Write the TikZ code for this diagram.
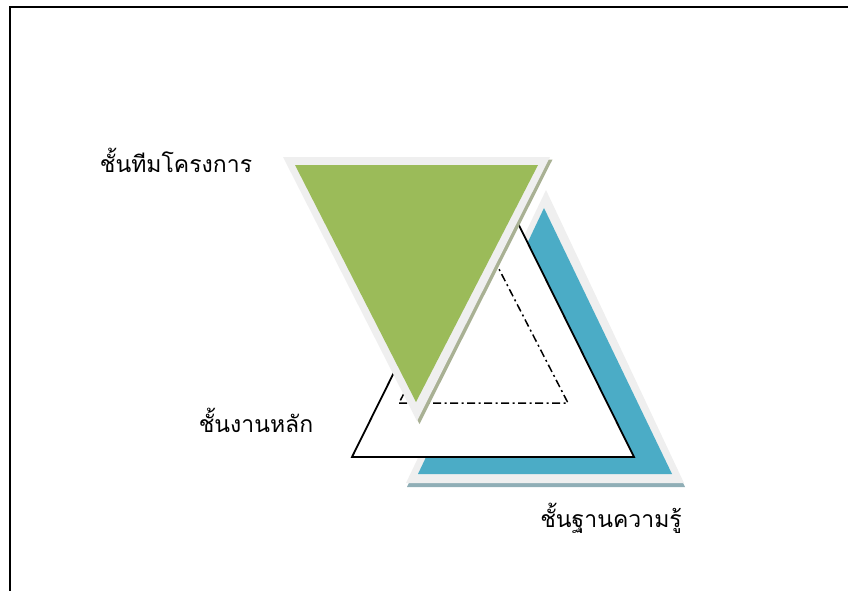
\documentclass[tikz,border=0pt]{standalone}
\usepackage{fontspec}
\newfontfamily\thaifont[Script=Thai]{Loma}
\definecolor{tgreen}{HTML}{9BBB59}
\definecolor{tblue}{HTML}{4BACC6}
\definecolor{tborder}{HTML}{EFEFEF}
\definecolor{gshadow}{HTML}{A9B194}
\definecolor{bshadow}{HTML}{8FAEB6}
\tikzset{
  lbl/.style={font=\thaifont\fontsize{23}{27}\selectfont, inner sep=0pt, anchor=base},
  frameline/.style={line width=2pt, black}
}
\begin{document}
\begin{tikzpicture}[x=1pt,y=-1pt]
\useasboundingbox (0,0) rectangle (848,591);
% frame
\draw[frameline] (10,591) -- (10,7) -- (848,7);
% knowledge layer (blue)
\fill[bshadow] (407,487) -- (685,487) -- (547,194) -- cycle;
\fill[tborder] (406,483) -- (684,483) -- (546,190) -- cycle;
\fill[tblue] (418,474) -- (672,474) -- (544,208) -- cycle;
% core work layer (white with black outline)
\draw[fill=white, line width=1.8pt] (352,457) -- (634,457) -- (493,173) -- cycle;
% dash-dot inner triangle
\draw[line width=1.5pt, dash pattern=on 8pt off 3.5pt on 2pt off 3.5pt] (399,403) -- (568,403) -- (483.5,239) -- cycle;
% project team layer (green)
\fill[gshadow] (285.5,159.5) -- (552.5,159.5) -- (419.5,424) -- cycle;
\fill[tborder] (283,157) -- (550,157) -- (417,421) -- cycle;
\fill[tgreen] (295,165) -- (538,165) -- (416,402) -- cycle;
% labels
\node[lbl] (team) at (176,172) {ชั้นทีมโครงการ};
\node[lbl] (core) at (256,432) {ชั้นงานหลัก};
\node[lbl] (know) at (611,527) {ชั้นฐานความรู้};
\end{tikzpicture}
\end{document}
